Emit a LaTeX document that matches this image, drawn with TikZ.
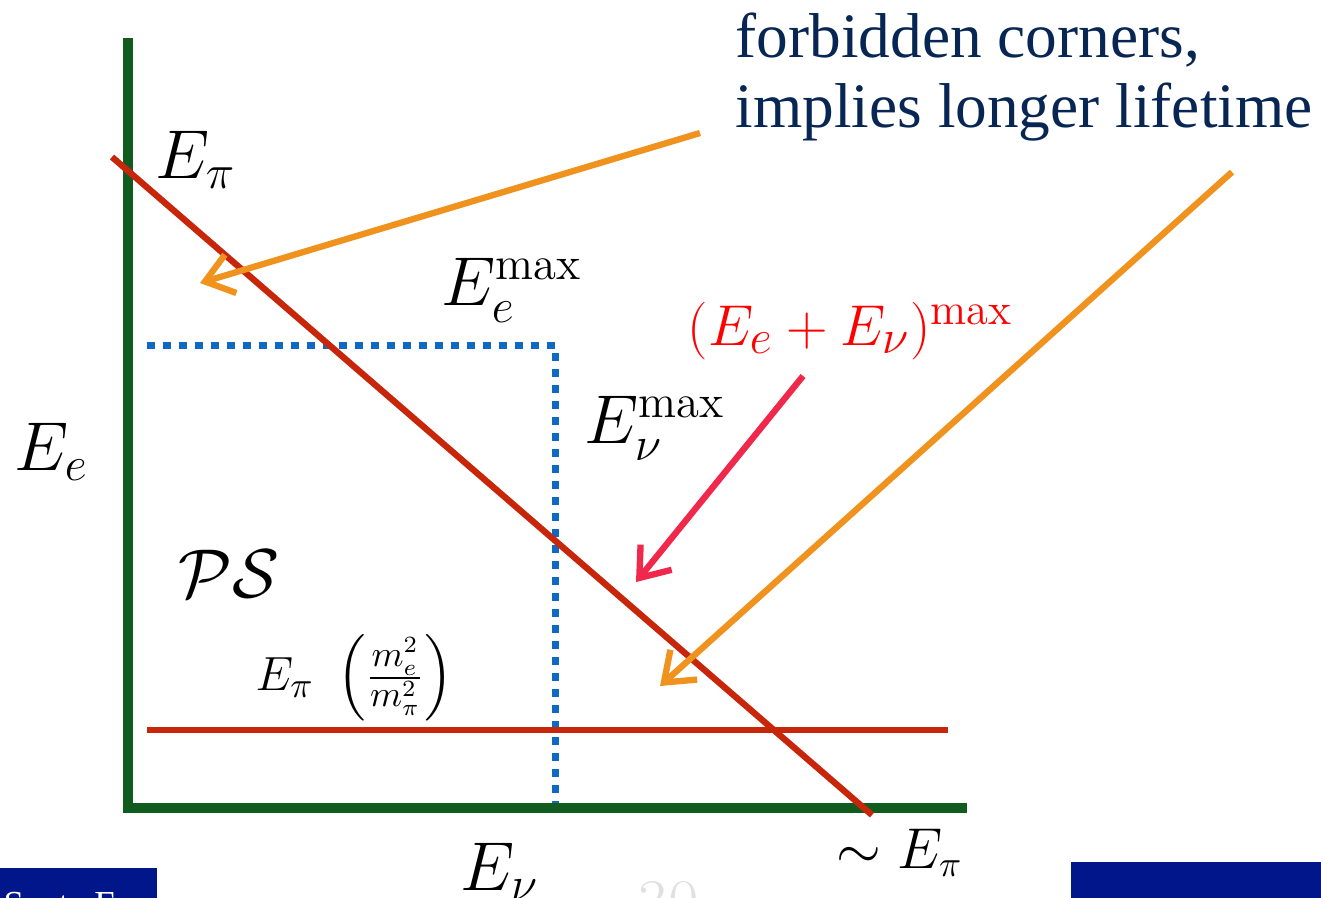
\documentclass[tikz,border=0pt]{standalone}
\usepackage{amsmath}
\usepackage{fontspec}
\newfontfamily\notefont{Liberation Serif}
\usetikzlibrary{arrows.meta,positioning}
\definecolor{axisgreen}{RGB}{16,92,30}
\definecolor{boundred}{RGB}{200,38,10}
\definecolor{cutblue}{RGB}{14,104,196}
\definecolor{hintorange}{RGB}{240,146,30}
\definecolor{sumred}{RGB}{240,40,75}
\definecolor{notenavy}{RGB}{8,38,84}
\definecolor{footblue}{RGB}{0,22,138}

\begin{document}
\begin{tikzpicture}[x=0.3pt, y=-0.3pt,
    axis/.style={draw=axisgreen, line width=3pt},
    bound/.style={draw=boundred, line width=1.9pt},
    cut/.style={draw=cutblue, line width=2.1pt, dash pattern=on 2.4pt off 2.4pt},
    hint/.style={draw=hintorange, line width=1.9pt, -{Straight Barb[length=8pt, width=12pt]}},
    lbl/.style={font=\fontsize{20}{24}\selectfont, inner sep=0pt, anchor=base west},
    note/.style={font=\notefont\fontsize{19}{21}\selectfont, text=notenavy, align=left, inner sep=0pt, anchor=base west}
]
\useasboundingbox (0,0) rectangle (1321,897);
\clip (0,0) rectangle (1321,897);

% corners of the plot
\coordinate (O) at (128,808);
\coordinate (ytop) at (128,38);
\coordinate (xend) at (967,808);
\coordinate (diagA) at (112,157);
\coordinate (diagB) at (872,815);
\coordinate (lowA) at (147,730);
\coordinate (lowB) at (948,730);
\coordinate (cutL) at (147,345);
\coordinate (cutC) at (555,345);
\coordinate (cutD) at (555,805);

\draw[cut] (cutL) -- (cutC) -- (cutD);
\draw[axis] (ytop) -- (O) -- (xend);
\draw[bound] (diagA) -- (diagB);
\draw[bound] (lowA) -- (lowB);

% labels
\node[lbl] (epi) at (155,178) {$E_\pi$};
\node[lbl] (eemax) at (441,305) {$E_e^{\max}$};
\node[lbl] (enumax) at (584,443) {$E_\nu^{\max}$};
\node[lbl, text=red, font=\fontsize{19}{23}\selectfont] (summax) at (687,345) {$(E_e+E_\nu)^{\max}$};
\node[lbl] (ee) at (14,470) {$E_e$};
\node[lbl] (ps) at (178,597) {$\mathcal{PS}$};
\node[lbl, font=\fontsize{15}{18}\selectfont] (low) at (255,690) {$E_\pi\ \left(\frac{m_e^2}{m_\pi^2}\right)$};
\node[lbl] (enu) at (460,890) {$E_\nu$};
\node[lbl, font=\fontsize{16}{19}\selectfont] (xmax) at (836,868) {$\sim E_\pi$};

\node[note] (corners) at (735,127) {forbidden corners,\\implies longer lifetime};

% arrows
\coordinate (h1s) at (700,133);
\coordinate (h1e) at (200,283);
\coordinate (h2s) at (1232,172);
\coordinate (h2e) at (660,686);
\coordinate (s1s) at (803,376);
\coordinate (s1e) at (636,582);
\draw[hint] (h1s) -- (h1e);
\draw[hint] (h2s) -- (h2e);
\draw[hint, draw=sumred] (s1s) -- (s1e);

% footer
\fill[footblue] (0,868) rectangle (157,900);
\fill[footblue] (1071,862) rectangle (1321,900);
\node[inner sep=0pt, anchor=base west, text=white, font=\notefont\fontsize{11}{12}\selectfont] (foot) at (3,916) {Santa Fe};
\node[inner sep=0pt, anchor=base west, text=black!12, font=\fontsize{20}{24}\selectfont] (page) at (637,925) {30};
\end{tikzpicture}
\end{document}
